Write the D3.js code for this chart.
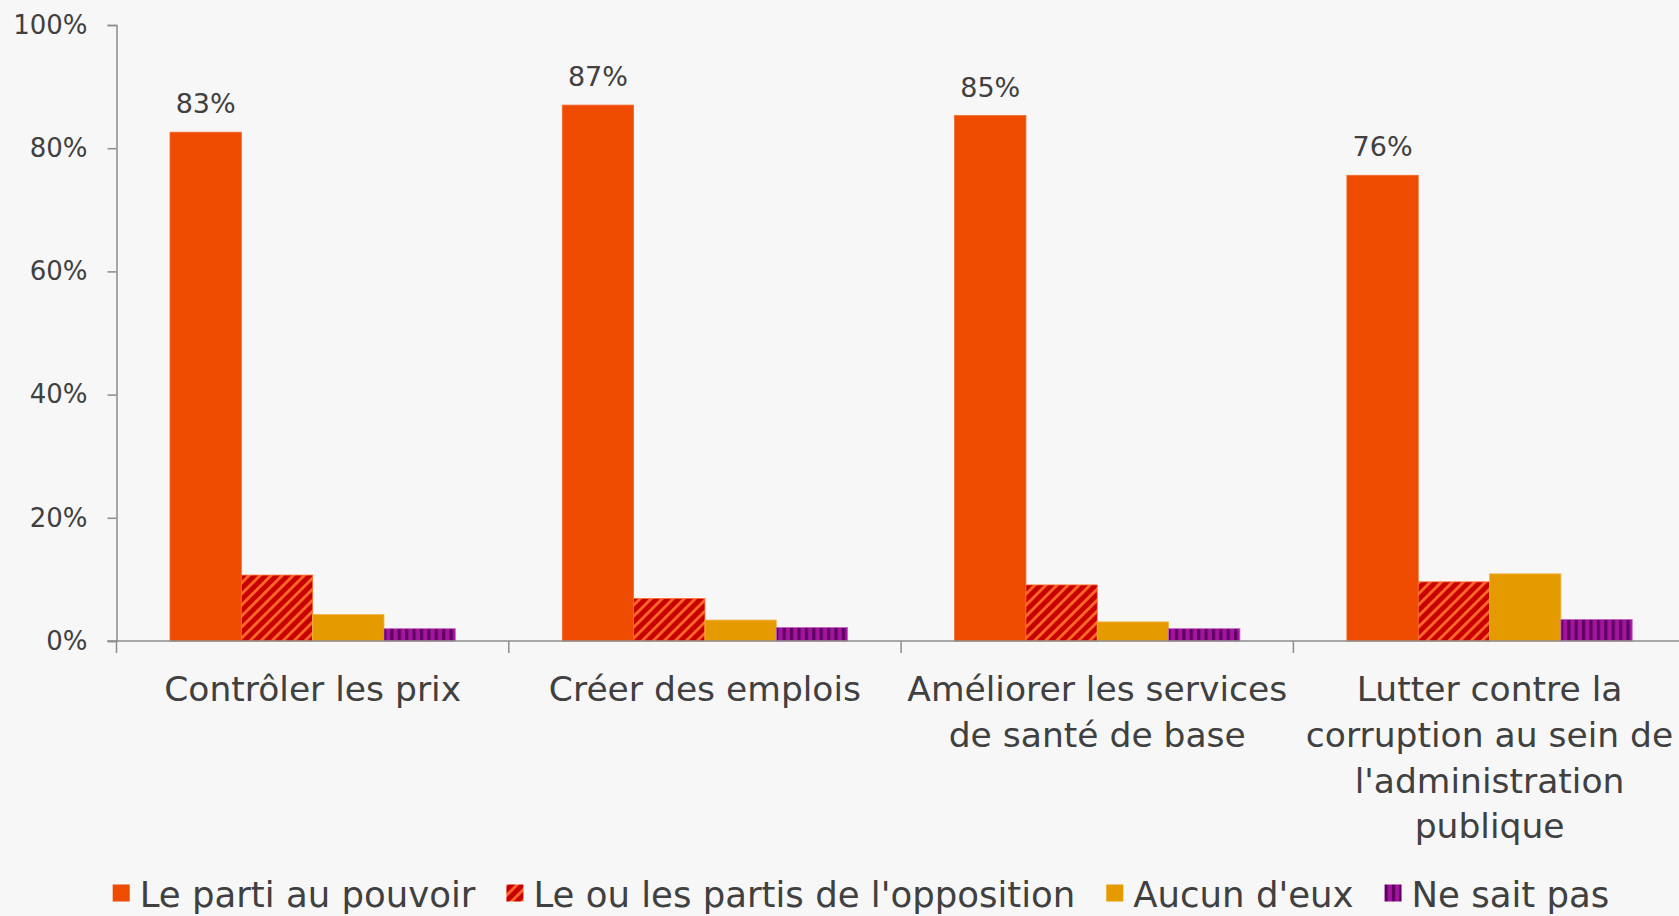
<!DOCTYPE html>
<html>
<head>
<meta charset="utf-8">
<script src="https://cdn.jsdelivr.net/npm/d3@7/dist/d3.min.js"></script>
<style>
    body { margin: 0; background: #f7f7f7; }
    svg { display: block; font-family: "DejaVu Sans", sans-serif; }
</style>
</head>
<body>
<svg id="chart" width="1679" height="916"></svg>
<script>
var categories = ["Contrôler les prix", "Créer des emplois", "Améliorer les services de santé de base", "Lutter contre la corruption au sein de l'administration publique"];
var categoryLines = [["Contrôler les prix"], ["Créer des emplois"], ["Améliorer les services", "de santé de base"], ["Lutter contre la", "corruption au sein de", "l'administration", "publique"]];
var series = ["Le parti au pouvoir", "Le ou les partis de l'opposition", "Aucun d'eux", "Ne sait pas"];
var partiAuPouvoir = [0.826, 0.870, 0.853, 0.756];
var opposition = [0.107, 0.069, 0.091, 0.096];
var aucun = [0.043, 0.034, 0.031, 0.109];
var neSaitPas = [0.020, 0.022, 0.020, 0.035];
var yTicks = [0, 0.2, 0.4, 0.6, 0.8, 1];

var values = [partiAuPouvoir, opposition, aucun, neSaitPas];
var fills = ["#ee4a00", "url(#hatch)", "#e59b00", "url(#vstripe)"];
var strokes = ["#f36a2c", "#ff6a2a", "#f0b447", "#c466c0"];

var svg = d3.select("#chart");
var textColor = "#404040",
    axisColor = "#8c8c8c";

var defs = svg.append("defs");
var hatch = defs.append("pattern")
    .attr("id", "hatch")
    .attr("patternUnits", "userSpaceOnUse")
    .attr("width", 7.8)
    .attr("height", 7.8)
    .attr("patternTransform", "rotate(45)");
hatch.append("rect").attr("width", 7.8).attr("height", 7.8).attr("fill", "#c80000");
hatch.append("rect").attr("width", 2.8).attr("height", 7.8).attr("fill", "#ff6a2a");

var vstripe = defs.append("pattern")
    .attr("id", "vstripe")
    .attr("patternUnits", "userSpaceOnUse")
    .attr("width", 7.4)
    .attr("height", 10);
vstripe.append("rect").attr("width", 7.4).attr("height", 10).attr("fill", "#a4149f");
vstripe.append("rect").attr("width", 3.2).attr("height", 10).attr("fill", "#5e0062");

var plotLeft = 116.5,
    plotTop = 25,
    plotBottom = 641,
    step = 392.3;

var x0 = d3.scaleBand()
    .domain(categories)
    .range([plotLeft, plotLeft + step * categories.length])
    .paddingInner(0)
    .paddingOuter(0);

var x1 = d3.scaleBand()
    .domain(series)
    .range([0, x0.bandwidth()])
    .paddingInner(0)
    .paddingOuter(0.75);

var y = d3.scaleLinear()
    .domain([0, 1])
    .range([plotBottom, plotTop]);

// axe vertical
var yAxis = svg.append("g")
    .attr("transform", "translate(" + plotLeft + ",0)")
    .call(d3.axisLeft(y).tickValues(yTicks).tickFormat(d3.format(".0%")).tickSize(9).tickPadding(20));
yAxis.selectAll("line, path").attr("stroke", axisColor).attr("stroke-width", 1.5);
yAxis.selectAll("text")
    .attr("fill", textColor)
    .attr("font-size", 26)
    .attr("font-family", "DejaVu Sans");

// barres
var groups = svg.selectAll(".cat")
    .data(categories)
    .enter().append("g")
    .attr("class", "cat")
    .attr("transform", function (d) {
        return "translate(" + x0(d) + ",0)";
    });

groups.selectAll("rect")
    .data(function (d, ci) {
        return series.map(function (s, si) {
            return {serie: s, si: si, value: values[si][ci]};
        });
    })
    .enter().append("rect")
    .attr("x", function (d) { return x1(d.serie); })
    .attr("y", function (d) { return y(d.value); })
    .attr("width", x1.bandwidth())
    .attr("height", function (d) { return plotBottom - y(d.value); })
    .attr("fill", function (d) { return fills[d.si]; })
    .attr("stroke", function (d) { return strokes[d.si]; })
    .attr("stroke-width", 0.8);

groups.append("text")
    .attr("x", x1(series[0]) + x1.bandwidth() / 2)
    .attr("y", function (d, i) { return y(partiAuPouvoir[i]) - 19; })
    .attr("text-anchor", "middle")
    .attr("font-size", 27)
    .attr("fill", textColor)
    .text(function (d, i) { return d3.format(".0%")(partiAuPouvoir[i]); });

// axe horizontal
var xAxis = svg.append("g")
    .attr("transform", "translate(0," + plotBottom + ")");
xAxis.append("line")
    .attr("x1", plotLeft - 9)
    .attr("x2", 1679)
    .attr("stroke", axisColor)
    .attr("stroke-width", 1.5);
xAxis.selectAll(".tick")
    .data(categories)
    .enter().append("line")
    .attr("x1", function (d) { return x0(d); })
    .attr("x2", function (d) { return x0(d); })
    .attr("y1", 0)
    .attr("y2", 12)
    .attr("stroke", axisColor)
    .attr("stroke-width", 1.5);

xAxis.selectAll(".label")
    .data(categories)
    .enter().append("text")
    .attr("class", "label")
    .attr("text-anchor", "middle")
    .attr("font-size", 34.5)
    .attr("fill", textColor)
    .attr("transform", function (d) {
        return "translate(" + (x0(d) + x0.bandwidth() / 2) + ",60)";
    })
    .each(function (d, i) {
        var t = d3.select(this);
        categoryLines[i].forEach(function (line, li) {
            t.append("tspan").attr("x", 0).attr("y", li * 45.8).text(line);
        });
    });

// légende
var legend = svg.append("g");
var items = legend.selectAll("g")
    .data(series)
    .enter().append("g");
items.append("rect")
    .attr("y", 884.5)
    .attr("width", 17)
    .attr("height", 17)
    .attr("fill", function (d, i) { return fills[i]; });
items.append("text")
    .attr("x", 27)
    .attr("y", 907)
    .attr("font-size", 35.5)
    .attr("fill", textColor)
    .text(function (d) { return d; });

var pos = 0;
items.each(function () {
    var g = d3.select(this);
    g.attr("transform", "translate(" + pos + ",0)");
    pos += 27 + g.select("text").node().getComputedTextLength() + 31;
});
var legendWidth = pos - 31;
legend.attr("transform", "translate(" + (861 - legendWidth / 2) + ",0)");
</script>
</body>
</html>
